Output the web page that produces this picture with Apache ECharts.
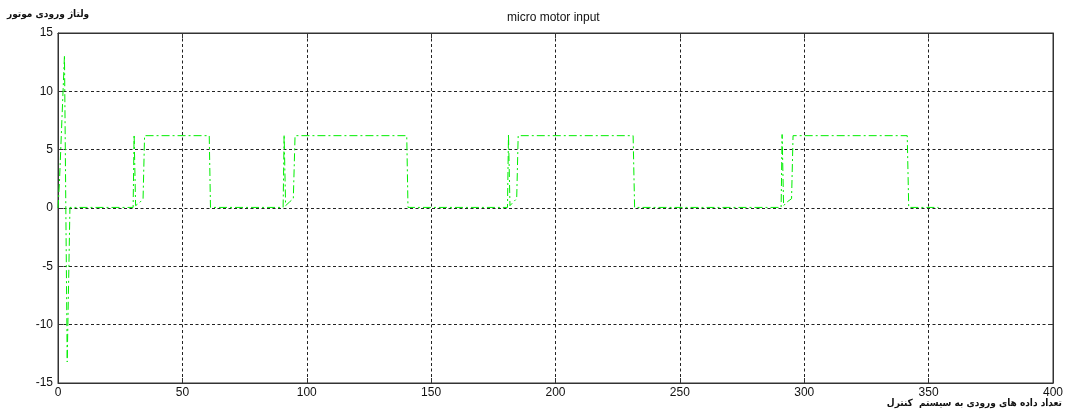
<!DOCTYPE html>
<html>
<head>
<meta charset="utf-8">
<script src="https://cdn.jsdelivr.net/npm/echarts@6/dist/echarts.min.js"></script>
<style>
html,body{margin:0;padding:0;background:#fff;}
#chart{width:1067px;height:419px;}
</style>
</head>
<body>
<div id="chart"></div>
<script>
// sample index (x) and motor voltage (y) at the points where the signal changes
const sampleX = [0, 0.6, 2.6, 3.7, 4.8,
  30.2, 30.6, 31.2, 33, 34.2, 34.8, 60.8, 61.3,
  90.5, 90.9, 91.5, 93, 94.6, 95.3, 140.2, 140.7,
  180.7, 181.1, 181.7, 183, 184.4, 185.0, 231.2, 231.8,
  290.7, 291.1, 291.7, 293, 294.9, 295.5, 341.4, 342.0,
  354];
const voltage = [0, 2.3, 13.1, -13.2, 0.05,
  0.05, 6.3, 0.2, 0.5, 0.8, 6.2, 6.2, 0.05,
  0.05, 6.3, 0.2, 0.5, 0.8, 6.2, 6.2, 0.05,
  0.05, 6.3, 0.2, 0.5, 0.8, 6.2, 6.2, 0.05,
  0.05, 6.3, 0.2, 0.5, 0.8, 6.2, 6.2, 0.05,
  0.05];
const xTicks = [0, 50, 100, 150, 200, 250, 300, 350, 400];
const yTicks = [-15, -10, -5, 0, 5, 10, 15];
const chartTitle = 'micro motor input';
const yName = 'ولتاژ ورودی موتور';
const xName = 'تعداد داده های ورودی به سیستم  کنترل';

const points = sampleX.map((x, i) => [x, voltage[i]]);
const gridStyle = {color: '#222', width: 1, type: [3, 2.5]};
const axisCol = '#333';
const labelFont = {color: '#111', fontSize: 12, fontFamily: 'Liberation Sans, Arial, sans-serif'};
const faFont = {fontSize: 10, fontWeight: 'bold', color: '#111', fontFamily: '"DejaVu Sans Condensed", "DejaVu Sans", sans-serif'};

const chart = echarts.init(document.getElementById('chart'), null, {renderer: 'canvas'});
chart.setOption({
  animation: false,
  backgroundColor: '#fff',
  title: [
    {text: chartTitle, left: 507, top: 12, padding: 0,
     textStyle: {fontSize: 12, fontWeight: 'normal', color: '#111', fontFamily: 'Liberation Sans, Arial, sans-serif'}},
    {text: yName, left: 7, top: 9, padding: 0, textStyle: faFont},
    {text: xName, right: 5, top: 398, padding: 0, textStyle: faFont}
  ],
  grid: {left: 58, right: 14, top: 33, bottom: 36, show: true, borderColor: axisCol, borderWidth: 1, backgroundColor: '#fff'},
  xAxis: [
    {type: 'value', min: xTicks[0], max: xTicks[xTicks.length - 1], interval: xTicks[1] - xTicks[0],
     axisLine: {show: true, onZero: false, lineStyle: {color: axisCol}},
     axisTick: {show: true, inside: true, length: 5, lineStyle: {color: axisCol}},
     axisLabel: Object.assign({margin: 4}, labelFont),
     splitLine: {show: true, lineStyle: gridStyle}},
    {type: 'value', position: 'top', min: xTicks[0], max: xTicks[xTicks.length - 1], interval: xTicks[1] - xTicks[0],
     axisLine: {show: true, onZero: false, lineStyle: {color: axisCol}},
     axisTick: {show: true, inside: true, length: 5, lineStyle: {color: axisCol}},
     axisLabel: {show: false}, splitLine: {show: false}}
  ],
  yAxis: [
    {type: 'value', min: yTicks[0], max: yTicks[yTicks.length - 1], interval: yTicks[1] - yTicks[0],
     axisLine: {show: true, onZero: false, lineStyle: {color: axisCol}},
     axisTick: {show: true, inside: true, length: 5, lineStyle: {color: axisCol}},
     axisLabel: Object.assign({margin: 5}, labelFont),
     splitLine: {show: true, lineStyle: gridStyle}},
    {type: 'value', position: 'right', min: yTicks[0], max: yTicks[yTicks.length - 1], interval: yTicks[1] - yTicks[0],
     axisLine: {show: true, onZero: false, lineStyle: {color: axisCol}},
     axisTick: {show: true, inside: true, length: 5, lineStyle: {color: axisCol}},
     axisLabel: {show: false}, splitLine: {show: false}}
  ],
  series: [{
    type: 'line',
    data: points,
    showSymbol: false,
    symbol: 'none',
    lineStyle: {color: '#00ee00', width: 1, type: [8, 3, 2, 3]},
    z: 5
  }]
});
</script>
</body>
</html>
